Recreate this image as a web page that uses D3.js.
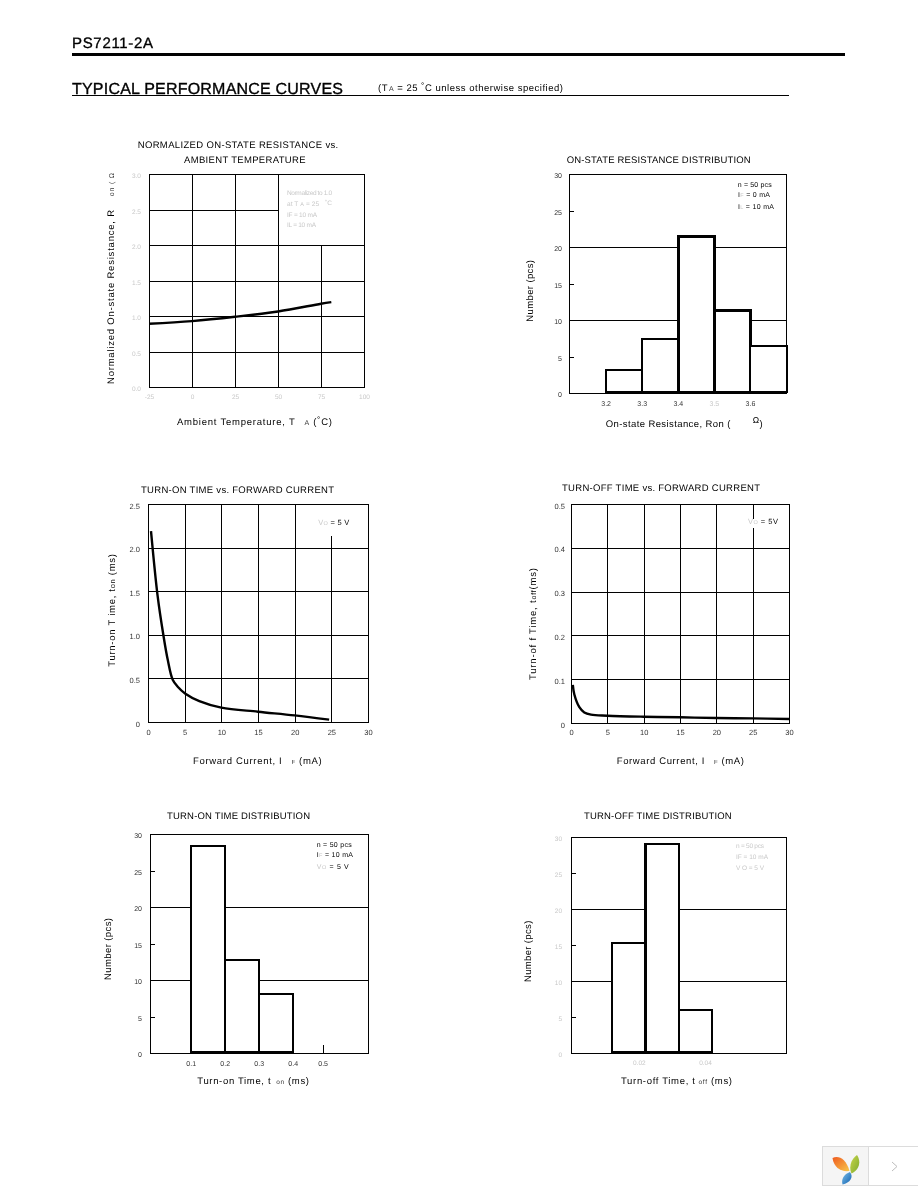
<!DOCTYPE html>
<html><head><meta charset="utf-8">
<script src="https://cdn.jsdelivr.net/npm/d3@7/dist/d3.min.js"></script>
<style>
html,body{margin:0;padding:0;background:#fff}
svg{display:block}
text{font-family:"Liberation Sans",Arial,sans-serif;fill:#000;text-rendering:geometricPrecision}
.crisp line,.crisp path,.crisp rect,line.crisp,rect.crisp{shape-rendering:crispEdges}
</style></head><body>
<svg id="c" width="918" height="1188"></svg>
<script>
// ---- data ----
const tempX = [-25, 0, 25, 50, 75, 81];
const resistanceY = [0.89, 0.928, 0.989, 1.064, 1.172, 1.195];
const ronEdges = [3.2, 3.3, 3.4, 3.5, 3.6, 3.7];
const ronCounts = [3.2, 7.4, 21.4, 11.3, 6.5];
const onCurrent = [0.41, 1.32, 2.09, 2.7, 3.37, 4.05, 5.1, 7, 10, 15, 20, 24.7];
const onTime = [2.19, 1.44, 1.0, 0.71, 0.485, 0.405, 0.325, 0.24, 0.165, 0.118, 0.076, 0.027];
const offCurrent = [0.25, 0.46, 1.15, 1.83, 2.75, 5, 10, 15, 20, 25, 30];
const offTime = [0.087, 0.065, 0.036, 0.024, 0.019, 0.0167, 0.0144, 0.013, 0.0114, 0.0106, 0.009];
const tonEdges = [0.1, 0.2, 0.3, 0.4];
const tonCounts = [28.4, 12.8, 8.15];
const tonLoneTick = [0.488];
const toffEdges = [0.0116, 0.0219, 0.032, 0.042];
const toffCounts = [15.3, 29, 6];
const countTicks = [0, 5, 10, 15, 20, 25, 30];
const countGrid = [10, 20];
const countMinor = [5, 15, 25];
const ronTicks = [3.2, 3.3, 3.4, 3.5, 3.6];
const tonTicks = [0.1, 0.2, 0.3, 0.4, 0.5];
const toffTicks = [0.02, 0.04];
const tempTicks = [-25, 0, 25, 50, 75, 100];
const normTicks = [0, 0.5, 1, 1.5, 2, 2.5, 3];
const currentTicks = [0, 5, 10, 15, 20, 25, 30];
const tonMsTicks = [0, 0.5, 1, 1.5, 2, 2.5];
const toffMsTicks = [0, 0.1, 0.2, 0.3, 0.4, 0.5];

const LIGHT = "#c8c8c8", MID = "#333";
const svg = d3.select("#c");
const root = svg.append("g").style("opacity", 0.999);

function seg(sel, parts) {
  parts.forEach(p => {
    const t = sel.append("tspan").text(p.t);
    if (p.s) t.attr("font-size", p.s);
    if (p.dx) t.attr("dx", p.dx);
    if (p.dy) t.attr("dy", p.dy);
    if (p.c) t.style("fill", p.c);
  });
}
function label(x, y, parts, size, len, opt = {}) {
  const t = root.append("text").attr("x", x).attr("y", y).attr("font-size", size);
  if (opt.rot) t.attr("transform", `rotate(-90 ${x} ${y})`);
  if (len) t.attr("textLength", len).attr("lengthAdjust", "spacing");
  seg(t, typeof parts === "string" ? [{t: parts}] : parts);
  return t;
}

// ---- page header ----
label(72, 48, "PS7211-2A", 15, 81).style("stroke", "#000").style("stroke-width", 0.35);
root.append("rect").attr("class", "crisp").attr("x", 72).attr("y", 53).attr("width", 773).attr("height", 3).attr("fill", "#000");
label(72, 94, "TYPICAL PERFORMANCE CURVES", 16, 271).style("stroke", "#000").style("stroke-width", 0.35);
root.append("rect").attr("class", "crisp").attr("x", 72).attr("y", 95).attr("width", 717).attr("height", 1).attr("fill", "#000");
label(378, 91, [{t: "(T"}, {t: "A", s: 7, c: MID, dx: 1}, {t: " = 25 "}, {t: "˚", dy: -1}, {t: "C unless otherwise specified)", dy: 1}], 9.5, 185);

// ---- panel builder ----
function panel(o) {
  const x = d3.scaleLinear().domain(o.xDomain).range(o.xRange);
  const y = d3.scaleLinear().domain(o.yDomain).range(o.yRange);
  const w = o.xRange[1] - o.xRange[0], h = o.yRange[0] - o.yRange[1];
  const g = root.append("g").attr("class", "crisp");
  const gridStyle = a => { a.selectAll("line").attr("stroke", "#000"); a.select(".domain").remove(); };

  if (o.xGrid) g.append("g").attr("transform", `translate(0,${o.yRange[0]})`)
    .call(d3.axisBottom(x).tickValues(o.xGrid).tickSize(-h).tickFormat("")).call(gridStyle);
  if (o.yGrid) g.append("g").attr("transform", `translate(${o.xRange[0]},0)`)
    .call(d3.axisLeft(y).tickValues(o.yGrid).tickSize(-w).tickFormat("")).call(gridStyle);
  if (o.yMinor) g.append("g").attr("transform", `translate(${o.xRange[0]},0)`)
    .call(d3.axisLeft(y).tickValues(o.yMinor).tickSize(-5).tickFormat("")).call(gridStyle);
  if (o.xLone) g.append("g").attr("transform", `translate(0,${o.yRange[0]})`)
    .call(d3.axisBottom(x).tickValues(o.xLone).tickSize(-8).tickFormat("")).call(gridStyle);

  (o.masks || []).forEach(m => g.append("rect")
    .attr("x", x(m[0])).attr("width", x(m[1]) - x(m[0]))
    .attr("y", y(m[3])).attr("height", y(m[2]) - y(m[3])).attr("fill", "#fff"));

  g.append("rect").attr("x", o.xRange[0] + .5).attr("y", o.yRange[1] + .5).attr("width", w).attr("height", h)
    .attr("fill", "none").attr("stroke", "#000");

  // tick labels
  const tickText = (a, colors) => {
    a.select(".domain").remove();
    a.selectAll("line").remove();
    a.selectAll("text").attr("font-size", o.tickSize).style("fill", (d, i) => colors ? colors(d, i) : o.tickColor)
      .attr("font-family", '"Liberation Sans",Arial,sans-serif');
  };
  g.append("g").attr("transform", `translate(0,${o.yRange[0]})`)
    .call(d3.axisBottom(x).tickValues(o.xTicks).tickSize(0).tickPadding(o.xPad).tickFormat(o.xFmt))
    .call(tickText, o.xTickColor);
  g.append("g").attr("transform", `translate(${o.xRange[0]},0)`)
    .call(d3.axisLeft(y).tickValues(o.yTicks).tickSize(0).tickPadding(o.yPad).tickFormat(o.yFmt))
    .call(tickText)
    .selectAll("text").attr("dy", "0.55em");

  // histogram bars
  if (o.edges) {
    const bars = o.counts.map((v, i) => ({x0: o.edges[i], x1: o.edges[i + 1], v, sw: o.barStroke[i]}));
    root.append("g").selectAll("rect").data(bars).join("rect").attr("class", "crisp")
      .attr("x", d => x(d.x0) + .5).attr("width", d => x(d.x1) - x(d.x0))
      .attr("y", d => y(d.v)).attr("height", d => y(0) - y(d.v) - 1)
      .attr("fill", "#fff").attr("stroke", "#000").attr("stroke-width", d => d.sw);
    root.append("line").attr("class", "crisp")
      .attr("x1", x(o.edges[0])).attr("x2", x(o.edges[o.edges.length - 1]))
      .attr("y1", y(0) - .5).attr("y2", y(0) - .5).attr("stroke", "#000").attr("stroke-width", o.baseStroke);
  }
  // curves
  if (o.curveX) {
    const line = d3.line().x(d => x(d[0])).y(d => y(d[1])).curve(d3.curveCatmullRom.alpha(0.5));
    root.append("path").attr("d", line(d3.zip(o.curveX, o.curveY)))
      .attr("fill", "none").attr("stroke", "#000").attr("stroke-width", 2.4);
  }
}

const f1 = d3.format(".1f"), f2 = d3.format(".2f");
const fInt = v => String(v);
const fms = v => v === 0 ? "0" : f1(v);

panel({xDomain: [-25, 100], xRange: [149, 364], yDomain: [0, 3], yRange: [387, 174],
  xGrid: [0, 25, 50, 75], yGrid: [0.5, 1, 1.5, 2, 2.5], masks: [[50.3, 99.8, 2.0, 2.99]],
  xTicks: tempTicks, yTicks: normTicks, xFmt: fInt, yFmt: f1, xPad: 7, yPad: 8, tickSize: 6.5, tickColor: LIGHT,
  curveX: tempX, curveY: resistanceY});

panel({xDomain: [3.0985, 3.7], xRange: [569, 786], yDomain: [0, 30], yRange: [393, 174],
  yGrid: countGrid, yMinor: countMinor, xTicks: ronTicks, yTicks: countTicks, xFmt: f1, yFmt: fInt,
  xPad: 8, yPad: 7, tickSize: 7, tickColor: MID, xTickColor: d => d === 3.5 ? LIGHT : MID,
  edges: ronEdges, counts: ronCounts, barStroke: [2, 2.5, 3, 2.5, 2], baseStroke: 3});

panel({xDomain: [0, 30], xRange: [148, 368], yDomain: [0, 2.5], yRange: [722, 504],
  xGrid: [5, 10, 15, 20, 25], yGrid: [0.5, 1, 1.5, 2], masks: [[20.4, 29.9, 2.13, 2.49]],
  xTicks: currentTicks, yTicks: tonMsTicks, xFmt: fInt, yFmt: fms, xPad: 8, yPad: 8, tickSize: 7.5, tickColor: MID,
  curveX: onCurrent, curveY: onTime});

panel({xDomain: [0, 30], xRange: [571, 789], yDomain: [0, 0.5], yRange: [723, 504],
  xGrid: [5, 10, 15, 20, 25], yGrid: [0.1, 0.2, 0.3, 0.4], masks: [[24.6, 25.4, 0.445, 0.466]],
  xTicks: currentTicks, yTicks: toffMsTicks, xFmt: fInt, yFmt: fms, xPad: 7, yPad: 6, tickSize: 7.5, tickColor: MID,
  curveX: offCurrent, curveY: offTime});

panel({xDomain: [-0.0197, 0.6215], xRange: [150, 368], yDomain: [0, 30], yRange: [1053, 834],
  yGrid: countGrid, yMinor: countMinor, xLone: tonLoneTick, xTicks: [0.1, 0.2, 0.3, 0.4, 0.488], yTicks: countTicks,
  xFmt: d => f1(tonTicks[Math.round(d * 10) - 1]), yFmt: fInt, xPad: 8, yPad: 8, tickSize: 7, tickColor: MID,
  edges: tonEdges, counts: tonCounts, barStroke: [2, 2, 2], baseStroke: 2});

panel({xDomain: [-0.0005, 0.0645], xRange: [571, 786], yDomain: [0, 30], yRange: [1053, 837],
  yGrid: countGrid, yMinor: countMinor, xTicks: toffTicks, yTicks: countTicks, xFmt: f2, yFmt: fInt,
  xPad: 7, yPad: 9, tickSize: 6.5, tickColor: LIGHT,
  edges: toffEdges, counts: toffCounts, barStroke: [2, 2.5, 2], baseStroke: 1.5});

// ---- titles ----
const TS = 9.5;
label(137.7, 148, "NORMALIZED ON-STATE RESISTANCE vs.", TS, 200.5);
label(184, 163, "AMBIENT TEMPERATURE", TS, 121.5);
label(566.7, 163, "ON-STATE RESISTANCE DISTRIBUTION", TS, 184);
label(141, 492.7, "TURN-ON TIME vs. FORWARD CURRENT", TS, 193);
label(562, 490.7, "TURN-OFF TIME vs. FORWARD CURRENT", TS, 198);
label(167, 819, "TURN-ON TIME DISTRIBUTION", TS, 143);
label(584, 819, "TURN-OFF TIME DISTRIBUTION", TS, 147.7);

// ---- axis titles ----
const AS = 9.5;
label(177, 425, [{t: "Ambient Temperature, T"}, {t: "A", s: 7, c: MID, dx: 9}, {t: " ("}, {t: "˚", dy: -1}, {t: "C)", dy: 1}], AS, 155);
label(605.7, 426.7, [{t: "On-state Resistance, Ron ("}, {t: "Ω", dx: 22, dy: -4, s: 8.5}, {t: ")", dy: 4}], AS, 157);
label(193, 764, [{t: "Forward Current, I"}, {t: "F", s: 6, c: MID, dx: 9}, {t: " (mA)"}], AS, 128.7);
label(616.7, 764, [{t: "Forward Current, I"}, {t: "F", s: 6, c: MID, dx: 9}, {t: " (mA)"}], AS, 127.3);
label(197.3, 1084.3, [{t: "Turn-on Time, t"}, {t: "on", s: 6.5, c: MID, dx: 5}, {t: " (ms)"}], AS, 111.7);
label(621, 1084, [{t: "Turn-off Time, t"}, {t: "off", s: 6.5, c: MID, dx: 3}, {t: " (ms)"}], AS, 111);

label(114, 384, [{t: "Normalized On-state Resistance, R"}, {t: "on (", s: 7, c: MID, dx: 13}, {t: " Ω", s: 7, c: MID}], AS, 211, {rot: 1});
label(532.7, 321.7, "Number (pcs)", AS, 61.7, {rot: 1});
label(115, 666.7, [{t: "Turn-on T ime, t"}, {t: "on", s: 7.5}, {t: " (ms)"}], AS, 112.7, {rot: 1});
label(536, 680, [{t: "Turn-of f Time, t"}, {t: "off", s: 7}, {t: "(ms)"}], AS, 112, {rot: 1});
label(110.7, 980, "Number (pcs)", AS, 62, {rot: 1});
label(530.7, 982, "Number (pcs)", AS, 61.3, {rot: 1});

// ---- condition notes ----
const NS = 7;
label(287, 195, [{t: "Normalized to 1.0", c: LIGHT}], 6.5, 45);
label(287, 206, [{t: "at T", c: LIGHT}, {t: "A", s: 5.5, c: LIGHT, dx: 2}, {t: " = 25", c: LIGHT}, {t: "˚C", c: LIGHT, dx: 6, dy: -1}], 6.5, 45);
label(287, 217, [{t: "IF = 10 mA", c: LIGHT}], 6.5, 30);
label(287, 227, [{t: "IL = 10 mA", c: LIGHT}], 6.5, 29);

label(737.7, 186.7, "n = 50 pcs", NS, 34);
label(738, 197, [{t: "I"}, {t: "F", s: 5.5, c: LIGHT}, {t: " = 0 mA"}], NS, 32);
label(738, 208.7, [{t: "I"}, {t: "L", s: 5.5, c: LIGHT}, {t: " = 10 mA"}], NS, 36);

label(318.3, 525, [{t: "V", c: LIGHT}, {t: "O", s: 5.5, c: LIGHT}, {t: " = 5 V"}], 7.5, 31);
label(748, 524, [{t: "V", c: LIGHT}, {t: "O", s: 5.5, c: LIGHT}, {t: " = 5V"}], 7.5, 30);

label(316.7, 846.7, "n = 50 pcs", NS, 35);
label(316.7, 857.3, [{t: "I"}, {t: "F", s: 5.5, c: LIGHT}, {t: " = 10 mA"}], NS, 36.3);
label(316.7, 868.7, [{t: "V", c: LIGHT}, {t: "O", s: 5.5, c: LIGHT}, {t: " = 5 V"}], NS, 32);

label(736, 848, [{t: "n = 50 pcs", c: LIGHT}], 6.5, 28);
label(736, 858.7, [{t: "IF = 10 mA", c: LIGHT}], 6.5, 32);
label(736, 870, [{t: "V O = 5 V", c: LIGHT}], 6.5, 28);

// ---- viewer badge, bottom right ----
const badge = root.append("g");
badge.append("rect").attr("class", "crisp").attr("x", 822.5).attr("y", 1146.5).attr("width", 100).attr("height", 38.5)
  .attr("fill", "#fff").attr("stroke", "#dcdcdc");
badge.append("rect").attr("class", "crisp").attr("x", 822.5).attr("y", 1146.5).attr("width", 46).attr("height", 38.5)
  .attr("fill", "#f5f5f5").attr("stroke", "#dcdcdc");
const grad = (id, a, b) => {
  const l = svg.append("defs").append("linearGradient").attr("id", id).attr("x1", 0).attr("y1", 0).attr("x2", 1).attr("y2", 1);
  l.append("stop").attr("offset", "0%").attr("stop-color", a);
  l.append("stop").attr("offset", "100%").attr("stop-color", b);
};
grad("gO", "#ef5a1f", "#f8c74a"); grad("gG", "#c8d64a", "#7faa2e"); grad("gB", "#7cc0ea", "#0f5fae");
badge.append("path").attr("d", "M832.5 1158 C838 1155 846 1158 849.5 1171 C841 1172 834 1168 832.5 1158Z").attr("fill", "url(#gO)");
badge.append("path").attr("d", "M857 1155 C861 1161 860 1169 851.5 1173.5 C848.5 1167 851 1159 857 1155Z").attr("fill", "url(#gG)");
badge.append("path").attr("d", "M850 1172 C854 1177 850 1183 842.5 1184.5 C841 1179 844 1174 850 1172Z").attr("fill", "url(#gB)");
badge.append("path").attr("d", "M892 1162 L897 1166.5 L892 1171").attr("fill", "none").attr("stroke", "#bdbdbd").attr("stroke-width", 1);
</script>
</body></html>
